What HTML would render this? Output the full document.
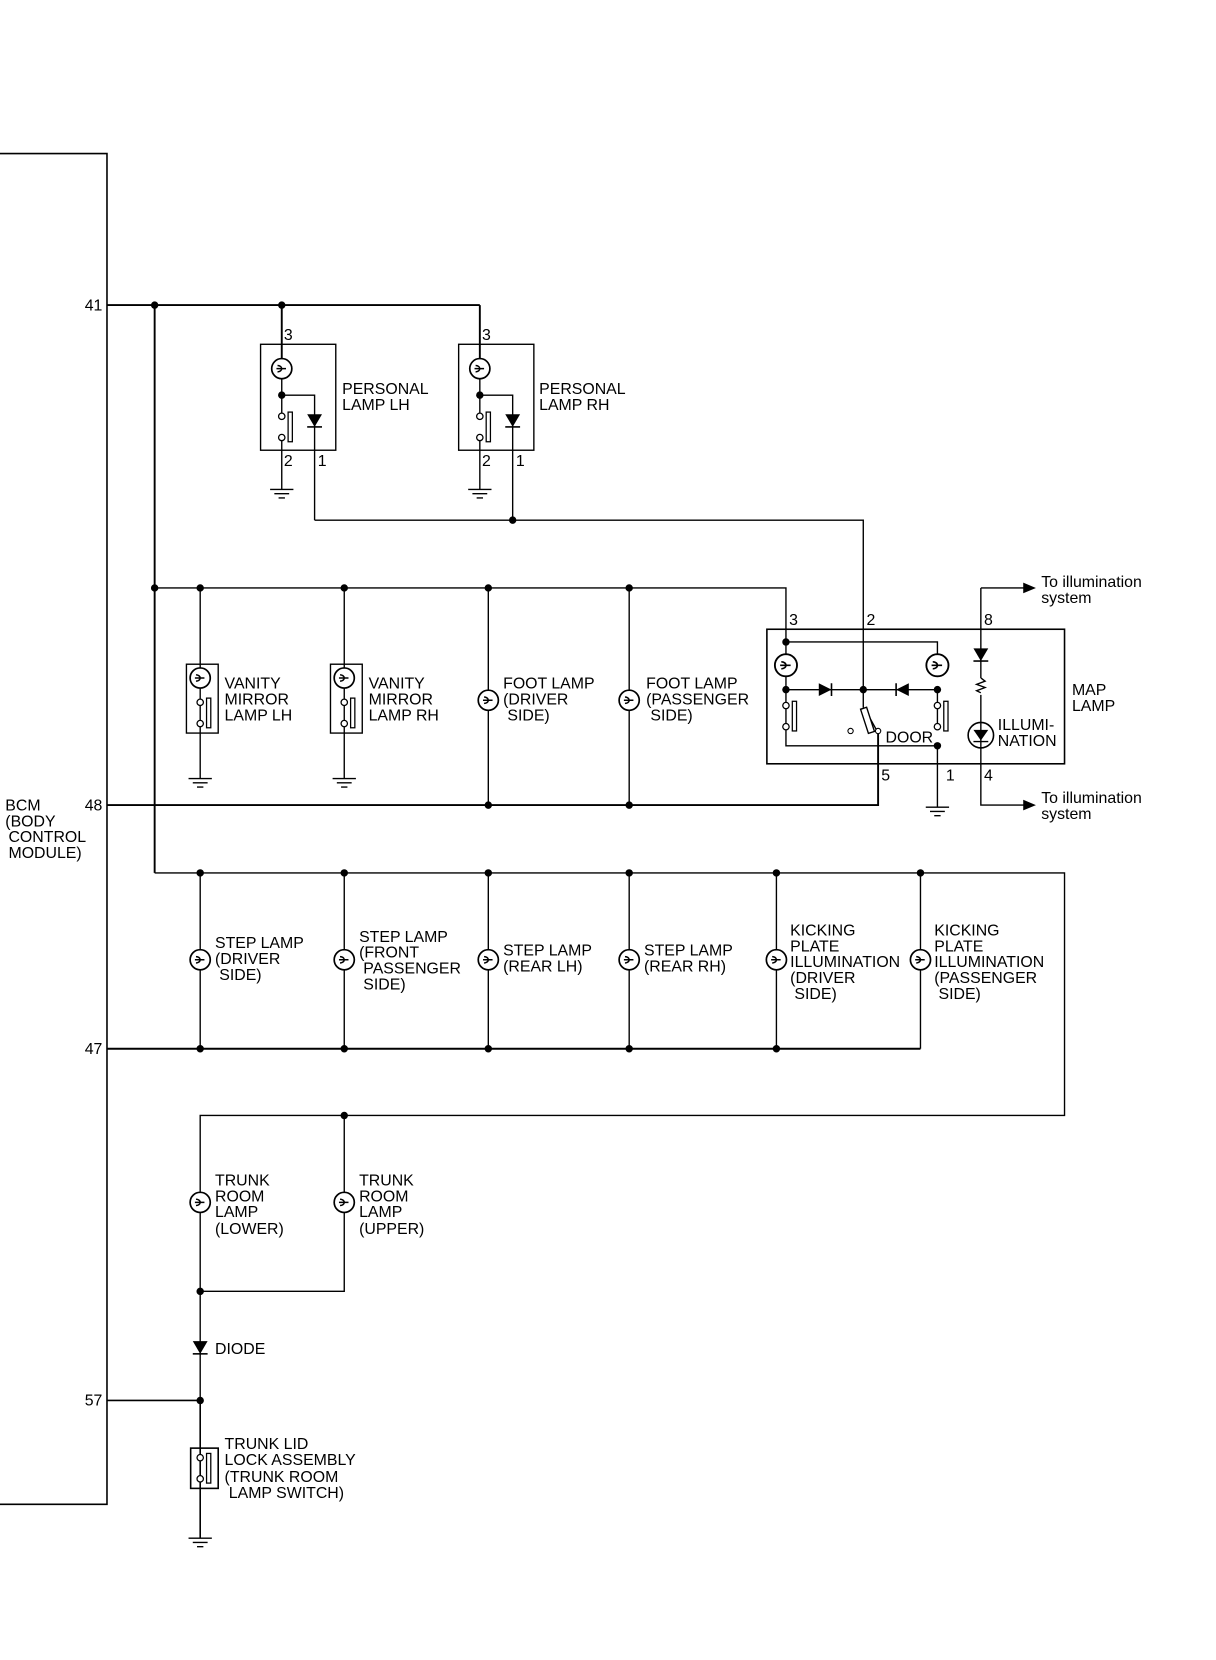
<!DOCTYPE html>
<html><head><meta charset="utf-8"><style>
html,body{margin:0;padding:0;background:#fff}
svg{display:block}
text{font-family:"Liberation Sans",sans-serif;font-size:15px;fill:#000}
</style></head><body>
<svg width="1216" height="1660" viewBox="0 0 1148 1567" preserveAspectRatio="none" xmlns="http://www.w3.org/2000/svg">
<defs>
<g id="lamp"><circle r="9.5" fill="#fff" stroke="#000" stroke-width="1.6"/><path d="M-4,-3 A4,3 0 1 1 -4,3 M-5,0 H4" fill="none" stroke="#000" stroke-width="1.4"/></g>
<g id="gnd"><path d="M-11,0H11M-7,4H7M-3,8H3" stroke="#000" stroke-width="1.3"/></g>
<g id="dn"><path d="M-7,-6H7L0,6Z" fill="#000"/><path d="M-7,6H7" stroke="#000" stroke-width="1.5"/></g>
<g id="sw"><circle cx="0" cy="0" r="3" fill="#fff" stroke="#000" stroke-width="1.2"/><circle cx="0" cy="20" r="3" fill="#fff" stroke="#000" stroke-width="1.2"/><rect x="6" y="-4" width="4" height="28" fill="#fff" stroke="#000" stroke-width="1.2"/></g>
</defs>
<g fill="none" stroke="#000" stroke-width="1.3">
<path d="M0,145H101V1420H0" stroke-width="1.5"/>
<path d="M101,288H453M146,288V824M266,288V348M453,288V348" stroke-width="1.8"/>
<rect x="246" y="325" width="71" height="100"/>
<rect x="433" y="325" width="71" height="100"/>
<path d="M266,348V393M266,413V462M266,373H297V491M297,491H815V651" />
<path d="M453,348V393M453,413V462M453,373H484V491"/>
<path d="M146,555H742V651"/>
<path d="M189,555V735M325,555V735M461,555V760M594,555V760"/>
<rect x="176" y="627" width="30" height="65"/>
<rect x="312" y="627" width="30" height="65"/>
<path d="M101,760H829V690" stroke-width="1.8"/>
<rect x="724" y="594" width="281" height="127" stroke-width="1.5"/>
<path d="M742,606H885V628M742,651H885M742,651V686M885,651V686M742,686V704H885V762M815,651V668"/>
<path d="M926,555H968M926,555V640M926,656V760H968"/>
<path d="M926,640l4,3l-8,3l8,3l-8,3l4,2"/>
<path d="M818,672L828,690" stroke-width="1.3"/>
<rect x="816" y="668" width="6" height="24" transform="rotate(-18 819 680)" fill="#fff"/>
<path d="M146,824H1005V1053H189V1322M189,824V990M325,824V990M461,824V990M594,824V990M733,824V990M869,824V990"/>
<path d="M101,990H869" stroke-width="1.8"/>
<path d="M325,1053V1219H189"/>
<path d="M101,1322H189V1452" stroke-width="1.5"/>
<rect x="180" y="1367" width="26" height="38" stroke-width="1.5"/>
</g>
<path d="M966,550L978,555L966,560Z M966,755L978,760L966,765Z"/>
<g fill="#000">
<circle cx="146" cy="288" r="3.5"/><circle cx="266" cy="288" r="3.5"/>
<circle cx="266" cy="373" r="3.5"/><circle cx="453" cy="373" r="3.5"/><circle cx="484" cy="491" r="3.5"/>
<circle cx="146" cy="555" r="3.5"/><circle cx="189" cy="555" r="3.5"/><circle cx="325" cy="555" r="3.5"/><circle cx="461" cy="555" r="3.5"/><circle cx="594" cy="555" r="3.5"/>
<circle cx="461" cy="760" r="3.5"/><circle cx="594" cy="760" r="3.5"/>
<circle cx="742" cy="606" r="3.5"/><circle cx="742" cy="651" r="3.5"/><circle cx="815" cy="651" r="3.5"/><circle cx="885" cy="651" r="3.5"/><circle cx="885" cy="704" r="3.5"/>
<circle cx="189" cy="824" r="3.5"/><circle cx="325" cy="824" r="3.5"/><circle cx="461" cy="824" r="3.5"/><circle cx="594" cy="824" r="3.5"/><circle cx="733" cy="824" r="3.5"/><circle cx="869" cy="824" r="3.5"/>
<circle cx="189" cy="990" r="3.5"/><circle cx="325" cy="990" r="3.5"/><circle cx="461" cy="990" r="3.5"/><circle cx="594" cy="990" r="3.5"/><circle cx="733" cy="990" r="3.5"/>
<circle cx="325" cy="1053" r="3.5"/><circle cx="189" cy="1219" r="3.5"/><circle cx="189" cy="1322" r="3.5"/>
</g>
<use href="#lamp" x="266" y="348"/><use href="#lamp" x="453" y="348"/>
<use href="#lamp" x="189" y="640"/><use href="#lamp" x="325" y="640"/>
<use href="#lamp" x="461" y="661"/><use href="#lamp" x="594" y="661"/>
<use href="#lamp" x="742" y="628" transform="translate(-74.2 -62.8) scale(1.1)" />
<use href="#lamp" x="885" y="628" transform="translate(-88.5 -62.8) scale(1.1)"/>
<use href="#lamp" x="189" y="906"/><use href="#lamp" x="325" y="906"/><use href="#lamp" x="461" y="906"/><use href="#lamp" x="594" y="906"/><use href="#lamp" x="733" y="906"/><use href="#lamp" x="869" y="906"/>
<use href="#lamp" x="189" y="1135"/><use href="#lamp" x="325" y="1135"/>
<use href="#sw" x="266" y="393"/><use href="#sw" x="453" y="393"/>
<use href="#sw" x="189" y="663"/><use href="#sw" x="325" y="663"/>
<use href="#sw" x="742" y="666"/><use href="#sw" x="885" y="666"/>
<use href="#sw" x="189" y="1376"/>
<circle cx="803" cy="690" r="2.5" fill="#fff" stroke="#000"/><circle cx="829" cy="690" r="2.5" fill="#fff" stroke="#000"/>
<use href="#dn" x="297" y="397"/><use href="#dn" x="484" y="397"/>
<use href="#dn" x="926" y="618"/><use href="#dn" x="189" y="1272"/>
<path d="M773,645L785,651L773,657Z M858,645L846,651L858,657Z"/>
<path d="M785,645V657M846,645V657" stroke="#000" stroke-width="1.5"/>
<circle cx="926" cy="694" r="12" fill="#fff" stroke="#000" stroke-width="1.5"/>
<path d="M919,689H933L926,699Z"/><path d="M919,700H933M926,682V706" stroke="#000" stroke-width="1.3"/>
<use href="#gnd" x="266" y="462"/><use href="#gnd" x="453" y="462"/>
<use href="#gnd" x="189" y="735"/><use href="#gnd" x="325" y="735"/>
<use href="#gnd" x="885" y="762"/><use href="#gnd" x="189" y="1452"/>
<text x="80" y="293">41</text><text x="80" y="765">48</text><text x="80" y="995">47</text><text x="80" y="1327">57</text>
<text x="5" y="765">BCM</text><text x="5" y="780">(BODY</text><text x="8" y="795">CONTROL</text><text x="8" y="810">MODULE)</text>
<text x="268" y="321">3</text><text x="268" y="440">2</text><text x="300" y="440">1</text>
<text x="455" y="321">3</text><text x="455" y="440">2</text><text x="487" y="440">1</text>
<text x="323" y="372">PERSONAL</text><text x="323" y="387">LAMP LH</text>
<text x="509" y="372">PERSONAL</text><text x="509" y="387">LAMP RH</text>
<text x="212" y="650">VANITY</text><text x="212" y="665">MIRROR</text><text x="212" y="680">LAMP LH</text>
<text x="348" y="650">VANITY</text><text x="348" y="665">MIRROR</text><text x="348" y="680">LAMP RH</text>
<text x="475" y="650">FOOT LAMP</text><text x="475" y="665">(DRIVER</text><text x="479" y="680">SIDE)</text>
<text x="610" y="650">FOOT LAMP</text><text x="610" y="665">(PASSENGER</text><text x="614" y="680">SIDE)</text>
<text x="745" y="590">3</text><text x="818" y="590">2</text><text x="929" y="590">8</text>
<text x="832" y="737">5</text><text x="893" y="737">1</text><text x="929" y="737">4</text>
<text x="836" y="701">DOOR</text>
<text x="942" y="689">ILLUMI-</text><text x="942" y="704">NATION</text>
<text x="1012" y="656">MAP</text><text x="1012" y="671">LAMP</text>
<text x="983" y="554">To illumination</text><text x="983" y="569">system</text>
<text x="983" y="758">To illumination</text><text x="983" y="773">system</text>
<text x="203" y="895">STEP LAMP</text><text x="203" y="910">(DRIVER</text><text x="207" y="925">SIDE)</text>
<text x="339" y="889">STEP LAMP</text><text x="339" y="904">(FRONT</text><text x="343" y="919">PASSENGER</text><text x="343" y="934">SIDE)</text>
<text x="475" y="902">STEP LAMP</text><text x="475" y="917">(REAR LH)</text>
<text x="608" y="902">STEP LAMP</text><text x="608" y="917">(REAR RH)</text>
<text x="746" y="883">KICKING</text><text x="746" y="898">PLATE</text><text x="746" y="913">ILLUMINATION</text><text x="746" y="928">(DRIVER</text><text x="750" y="943">SIDE)</text>
<text x="882" y="883">KICKING</text><text x="882" y="898">PLATE</text><text x="882" y="913">ILLUMINATION</text><text x="882" y="928">(PASSENGER</text><text x="886" y="943">SIDE)</text>
<text x="203" y="1119">TRUNK</text><text x="203" y="1134">ROOM</text><text x="203" y="1149">LAMP</text><text x="203" y="1165">(LOWER)</text>
<text x="339" y="1119">TRUNK</text><text x="339" y="1134">ROOM</text><text x="339" y="1149">LAMP</text><text x="339" y="1165">(UPPER)</text>
<text x="203" y="1278">DIODE</text>
<text x="212" y="1368">TRUNK LID</text><text x="212" y="1383">LOCK ASSEMBLY</text><text x="212" y="1399">(TRUNK ROOM</text><text x="216" y="1414">LAMP SWITCH)</text>
</svg>
</body></html>
